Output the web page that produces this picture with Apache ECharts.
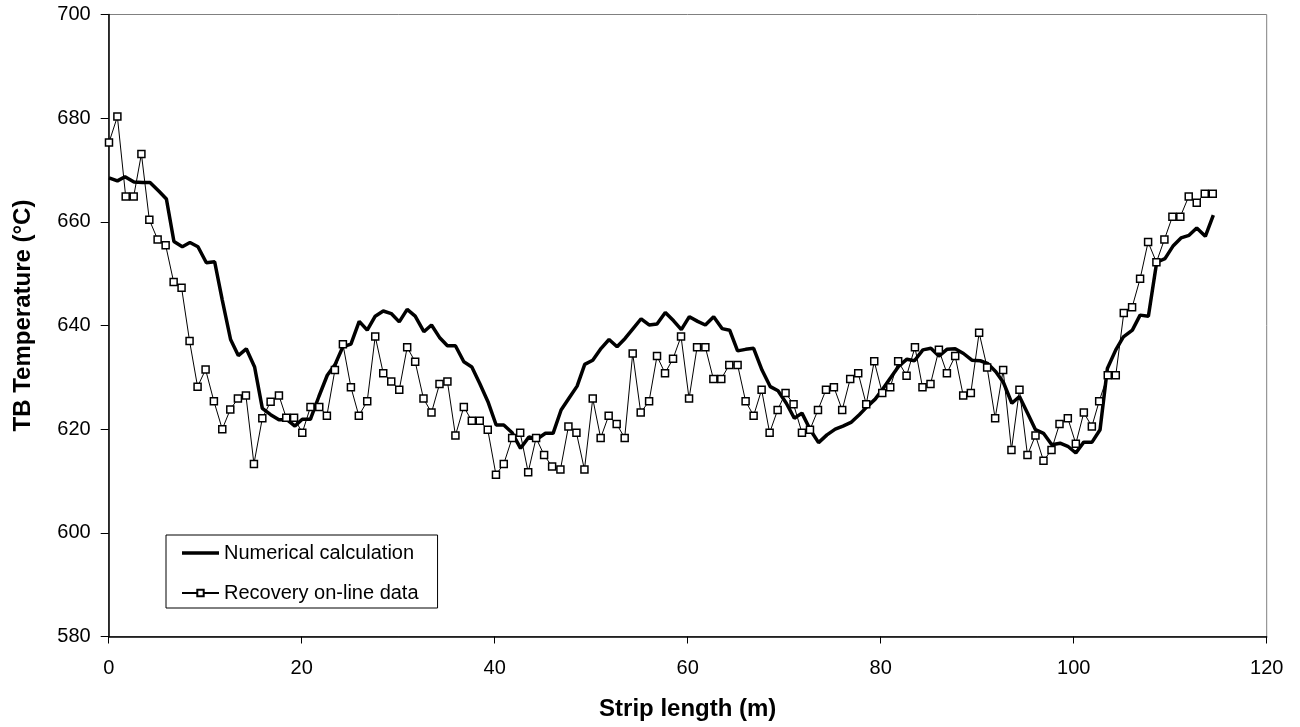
<!DOCTYPE html>
<html>
<head>
<meta charset="utf-8">
<script src="https://cdn.jsdelivr.net/npm/echarts@6/dist/echarts.min.js"></script>
<style>
  html, body { margin: 0; padding: 0; background: #fff; }
  #chart { width: 1300px; height: 727px; }
</style>
</head>
<body>
<div id="chart"></div>
<script>
// ---- Data ----
const seriesNames = ['Numerical calculation', 'Recovery on-line data'];

const xTicks = [0, 20, 40, 60, 80, 100, 120];
const yTicks = [580, 600, 620, 640, 660, 680, 700];

const numericalX = [0.03, 0.90, 1.69, 2.62, 3.49, 4.28, 5.21, 5.98, 6.76, 7.63, 8.42, 9.25, 10.12, 10.98, 11.77, 12.63, 13.43, 14.26, 15.12, 15.92, 16.78, 17.64, 18.50, 19.30, 20.06, 20.90, 21.78, 22.65, 23.44, 24.27, 25.10, 25.96, 26.79, 27.62, 28.45, 29.28, 30.11, 30.93, 31.76, 32.66, 33.45, 34.28, 35.10, 35.93, 36.80, 37.63, 38.45, 39.30, 40.15, 40.94, 41.81, 42.68, 43.54, 44.40, 45.26, 46.05, 46.88, 47.71, 48.54, 49.33, 50.16, 51.03, 51.85, 52.68, 53.51, 54.34, 55.17, 56.00, 56.82, 57.68, 58.54, 59.34, 60.17, 61.03, 61.83, 62.69, 63.56, 64.35, 65.17, 66.00, 66.83, 67.70, 68.56, 69.36, 70.22, 71.05, 71.84, 72.70, 73.56, 74.43, 75.29, 76.09, 76.92, 77.78, 78.57, 79.43, 80.23, 81.06, 81.85, 82.72, 83.50, 84.37, 85.20, 86.03, 86.86, 87.72, 88.58, 89.45, 90.31, 91.06, 91.93, 92.72, 93.59, 94.38, 95.21, 96.04, 96.87, 97.73, 98.59, 99.39, 100.22, 101.04, 101.90, 102.73, 103.49, 104.36, 105.15, 106.08, 106.88, 107.74, 108.60, 109.46, 110.32, 111.12, 111.95, 112.75, 113.64, 114.47];
const numericalT = [668.5, 667.9, 668.7, 667.7, 667.6, 667.6, 665.9, 664.4, 656.2, 655.2, 656.0, 655.2, 652.1, 652.3, 644.9, 637.3, 634.2, 635.5, 632.0, 624.0, 622.8, 621.8, 621.8, 620.6, 621.9, 621.9, 626.3, 630.4, 632.4, 635.9, 636.4, 640.8, 639.1, 641.8, 642.8, 642.3, 640.7, 643.1, 641.8, 638.8, 640.1, 637.7, 636.1, 636.1, 633.0, 632.0, 628.8, 625.3, 620.8, 620.8, 619.3, 616.3, 618.5, 618.1, 619.2, 619.2, 623.7, 626.0, 628.3, 632.5, 633.3, 635.6, 637.3, 635.9, 637.5, 639.4, 641.3, 640.1, 640.3, 642.5, 640.9, 639.2, 641.7, 640.8, 640.1, 641.7, 639.4, 639.1, 635.1, 635.4, 635.6, 631.4, 628.2, 627.4, 625.0, 622.1, 623.1, 619.9, 617.4, 618.9, 620.0, 620.6, 621.3, 622.8, 624.3, 625.8, 627.8, 630.0, 632.1, 633.5, 633.2, 635.3, 635.6, 634.1, 635.4, 635.5, 634.6, 633.3, 633.2, 632.7, 631.1, 629.0, 625.0, 626.3, 623.1, 619.9, 619.2, 617.0, 617.3, 616.7, 615.4, 617.5, 617.5, 619.9, 631.7, 635.3, 637.8, 639.1, 642.0, 641.8, 652.2, 652.9, 655.4, 656.9, 657.4, 658.8, 657.2, 661.3];

const recoveryX = [0.03, 0.90, 1.76, 2.59, 3.39, 4.21, 5.07, 5.90, 6.73, 7.55, 8.38, 9.21, 10.04, 10.90, 11.77, 12.60, 13.39, 14.22, 15.05, 15.92, 16.78, 17.64, 18.40, 19.21, 20.06, 20.91, 21.82, 22.61, 23.44, 24.27, 25.10, 25.92, 26.79, 27.62, 28.45, 29.28, 30.11, 30.93, 31.76, 32.62, 33.45, 34.28, 35.10, 35.93, 36.80, 37.63, 38.45, 39.28, 40.13, 40.94, 41.81, 42.64, 43.47, 44.29, 45.12, 45.95, 46.81, 47.64, 48.47, 49.30, 50.16, 50.98, 51.81, 52.64, 53.47, 54.30, 55.13, 56.00, 56.82, 57.65, 58.48, 59.31, 60.14, 60.97, 61.83, 62.66, 63.48, 64.31, 65.17, 66.00, 66.83, 67.66, 68.49, 69.32, 70.14, 70.97, 71.84, 72.67, 73.50, 74.33, 75.15, 76.01, 76.84, 77.67, 78.50, 79.33, 80.16, 80.99, 81.81, 82.68, 83.55, 84.33, 85.16, 86.03, 86.86, 87.72, 88.55, 89.34, 90.20, 91.03, 91.86, 92.69, 93.55, 94.38, 95.21, 96.04, 96.87, 97.70, 98.53, 99.39, 100.22, 101.05, 101.88, 102.64, 103.53, 104.36, 105.19, 106.05, 106.88, 107.71, 108.57, 109.40, 110.23, 111.05, 111.92, 112.75, 113.58, 114.41];
const recoveryT = [675.3, 680.3, 664.9, 664.9, 673.1, 660.4, 656.6, 655.5, 648.4, 647.3, 637.0, 628.2, 631.5, 625.4, 620.0, 623.8, 625.9, 626.5, 613.3, 622.1, 625.3, 626.5, 622.2, 622.2, 619.3, 624.3, 624.3, 622.6, 631.4, 636.4, 628.1, 622.6, 625.4, 637.9, 630.8, 629.2, 627.6, 635.8, 633.0, 625.9, 623.2, 628.7, 629.2, 618.8, 624.3, 621.6, 621.6, 619.9, 611.2, 613.3, 618.3, 619.3, 611.7, 618.3, 615.0, 612.8, 612.2, 620.5, 619.3, 612.2, 625.9, 618.3, 622.6, 621.0, 618.3, 634.6, 623.2, 625.4, 634.1, 630.8, 633.6, 637.9, 625.9, 635.8, 635.8, 629.7, 629.7, 632.4, 632.4, 625.4, 622.6, 627.6, 619.3, 623.7, 627.0, 624.8, 619.3, 619.9, 623.7, 627.6, 628.1, 623.7, 629.7, 630.8, 624.8, 633.1, 627.0, 628.1, 633.1, 630.3, 635.8, 628.1, 628.7, 635.3, 630.8, 634.1, 626.5, 627.0, 638.6, 631.9, 622.1, 631.4, 616.0, 627.6, 615.0, 618.8, 613.9, 616.0, 621.0, 622.1, 617.2, 623.2, 620.5, 625.4, 630.4, 630.4, 642.4, 643.5, 649.0, 656.1, 652.2, 656.6, 661.0, 661.0, 664.9, 663.7, 665.4, 665.4];

// ---- Build series data ----
const numericalData = numericalX.map((x, i) => [x, numericalT[i]]);
const recoveryData = recoveryX.map((x, i) => [x, recoveryT[i]]);

const FONT = '"Liberation Sans", Arial, sans-serif';

const chart = echarts.init(document.getElementById('chart'), null, { renderer: 'canvas' });
chart.setOption({
  animation: false,
  backgroundColor: '#ffffff',
  textStyle: { fontFamily: FONT, color: '#000' },
  grid: {
    left: 108.7, right: 33.3, top: 14.5, bottom: 90.5,
    show: true, borderColor: '#808080', borderWidth: 1, backgroundColor: 'transparent'
  },
  legend: {
    orient: 'vertical',
    left: 166, top: 535,
    padding: [8, 19, 5, 15],
    itemWidth: 37, itemHeight: 8, itemGap: 20,
    backgroundColor: '#ffffff',
    borderColor: '#000000', borderWidth: 1,
    borderRadius: 0,
    textStyle: { fontFamily: FONT, fontSize: 20, color: '#000' },
    data: [
      { name: seriesNames[0], icon: 'path://M0,0H37V3.5H0Z', itemStyle: { color: '#000' } },
      { name: seriesNames[1] }
    ]
  },
  xAxis: {
    type: 'value',
    min: xTicks[0], max: xTicks[xTicks.length - 1], interval: 20,
    name: 'Strip length (m)',
    nameLocation: 'middle', nameGap: 61,
    nameTextStyle: { fontFamily: FONT, fontSize: 24, fontWeight: 'bold', color: '#000' },
    axisLine: { show: true, onZero: false, lineStyle: { color: '#000', width: 1.5 } },
    axisTick: { show: true, inside: false, length: 7, lineStyle: { color: '#000', width: 1 } },
    axisLabel: { margin: 22, fontSize: 20, color: '#000', fontFamily: FONT },
    splitLine: { show: false }
  },
  yAxis: {
    type: 'value',
    min: yTicks[0], max: yTicks[yTicks.length - 1], interval: 20,
    name: 'TB Temperature (°C)',
    nameLocation: 'middle', nameGap: 73,
    nameTextStyle: { fontFamily: FONT, fontSize: 24, fontWeight: 'bold', color: '#000', padding: [0, 0, 0, 20] },
    axisLine: { show: true, onZero: false, lineStyle: { color: '#000', width: 1.5 } },
    axisTick: { show: true, inside: false, length: 8, lineStyle: { color: '#000', width: 1 } },
    axisLabel: { margin: 18, fontSize: 20, color: '#000', fontFamily: FONT },
    splitLine: { show: false }
  },
  series: [
    {
      name: seriesNames[0],
      type: 'line',
      data: numericalData,
      showSymbol: false,
      symbol: 'none',
      lineStyle: { color: '#000', width: 3.5 },
      itemStyle: { color: '#000' },
      z: 2
    },
    {
      name: seriesNames[1],
      type: 'line',
      data: recoveryData,
      symbol: 'rect',
      symbolSize: 7,
      showAllSymbol: true,
      lineStyle: { color: '#000', width: 1 },
      itemStyle: { color: '#ffffff', borderColor: '#000', borderWidth: 1.5 },
      z: 3
    }
  ]
});
</script>
</body>
</html>
